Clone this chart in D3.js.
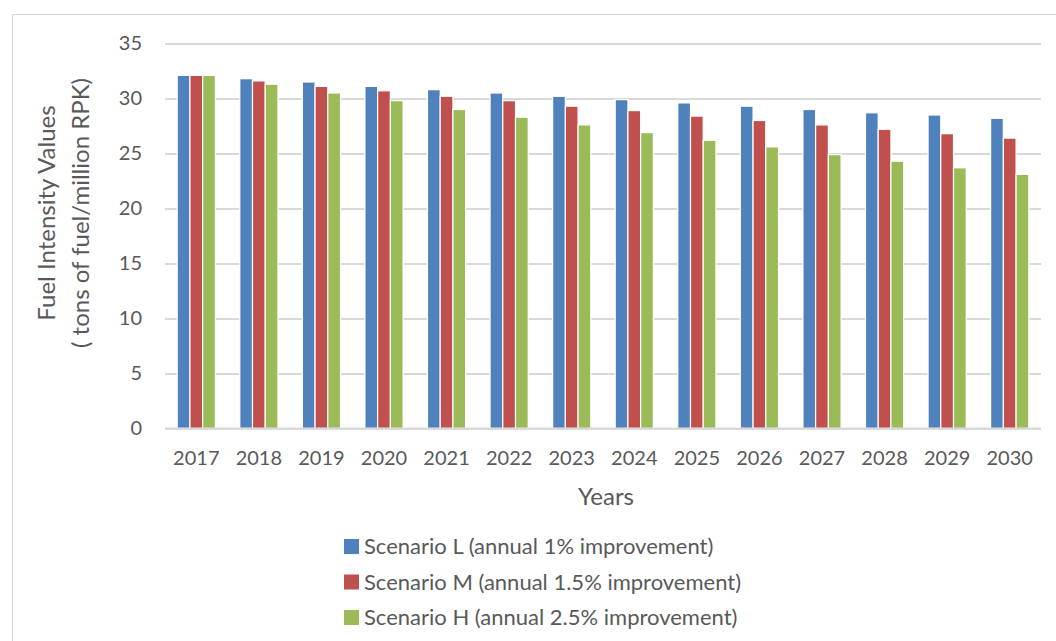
<!DOCTYPE html>
<html><head><meta charset="utf-8">
<script src="https://cdn.jsdelivr.net/npm/d3@7"></script>
<style>body{margin:0;background:#fff}svg{display:block}text{font-family:Lato,"Open Sans",sans-serif;fill:#595959}</style>
</head><body>
<svg id="c" width="1056" height="641"></svg>
<script>
const years = ["2017","2018","2019","2020","2021","2022","2023","2024","2025","2026","2027","2028","2029","2030"];
const scenarioL = [32.1,31.8,31.5,31.1,30.8,30.5,30.2,29.9,29.6,29.3,29.0,28.7,28.5,28.2];
const scenarioM = [32.1,31.6,31.1,30.7,30.2,29.8,29.3,28.9,28.4,28.0,27.6,27.2,26.8,26.4];
const scenarioH = [32.1,31.3,30.5,29.8,29.0,28.3,27.6,26.9,26.2,25.6,24.9,24.3,23.7,23.1];
const seriesNames = ["Scenario L (annual 1% improvement)","Scenario M (annual 1.5% improvement)","Scenario H (annual 2.5% improvement)"];
const colors = ["#4f81bd","#c0504d","#9bbb59"];
const yTicks = [0,5,10,15,20,25,30,35];

const series = [scenarioL, scenarioM, scenarioH];
const svg = d3.select("#c");
svg.append("rect").attr("x",12.5).attr("y",14.5).attr("width",1100).attr("height",700)
  .attr("fill","none").attr("stroke","#d9d9d9").attr("stroke-width",1);

const x = d3.scaleBand().domain(years).range([165,1041]).paddingInner(0.39).paddingOuter(0.195);
const xs = d3.scaleBand().domain(d3.range(3)).range([0,x.bandwidth()]);
const y = d3.scaleLinear().domain([0,35]).range([428.5,43.5]);

// gridlines
const yAxis = d3.axisLeft(y).tickValues(yTicks).tickSize(-(1041-165)).tickPadding(23);
const ga = svg.append("g").attr("transform","translate(165,0)").call(yAxis);
ga.select(".domain").remove();
ga.selectAll(".tick line").attr("stroke","#d9d9d9").attr("stroke-width",1.8);
ga.selectAll(".tick text").style("font-size","20px").attr("fill","#595959");

// bars
series.forEach((vals,si)=>{
  svg.append("g").selectAll("rect").data(vals).join("rect")
    .attr("x",(d,i)=>x(years[i])+xs(si))
    .attr("width",xs.bandwidth())
    .attr("y",d=>y(d))
    .attr("height",d=>y(0)-y(d))
    .attr("fill",colors[si])
    .attr("stroke","#fff").attr("stroke-width",1.2);
});

// x axis
const xAxis = d3.axisBottom(x).tickSize(0).tickPadding(22);
const gx = svg.append("g").attr("transform","translate(0,428.5)").call(xAxis);
gx.select(".domain").attr("stroke","#d9d9d9").attr("stroke-width",1.8).attr("d","M165,0H1041");
gx.selectAll(".tick text").style("font-size","20px").attr("fill","#595959");

// axis titles
svg.append("text").attr("x",606).attr("y",505).attr("text-anchor","middle")
  .style("font-size","24px").text("Years");
const yt = svg.append("text").attr("transform","translate(0,213) rotate(-90)").attr("text-anchor","middle")
  .style("font-size","24px");
yt.append("tspan").attr("x",0).attr("y",55).text("Fuel Intensity Values");
yt.append("tspan").attr("x",0).attr("y",89).text("( tons of fuel/million RPK)");

// legend
const lg = svg.append("g").selectAll("g").data(seriesNames).join("g")
  .attr("transform",(d,i)=>`translate(344,${554+i*35.5})`);
lg.append("rect").attr("x",0).attr("y",-15).attr("width",15).attr("height",15).attr("fill",(d,i)=>colors[i]);
lg.append("text").attr("x",20).attr("y",0).style("font-size","22px").text(d=>d);
</script>
</body></html>
